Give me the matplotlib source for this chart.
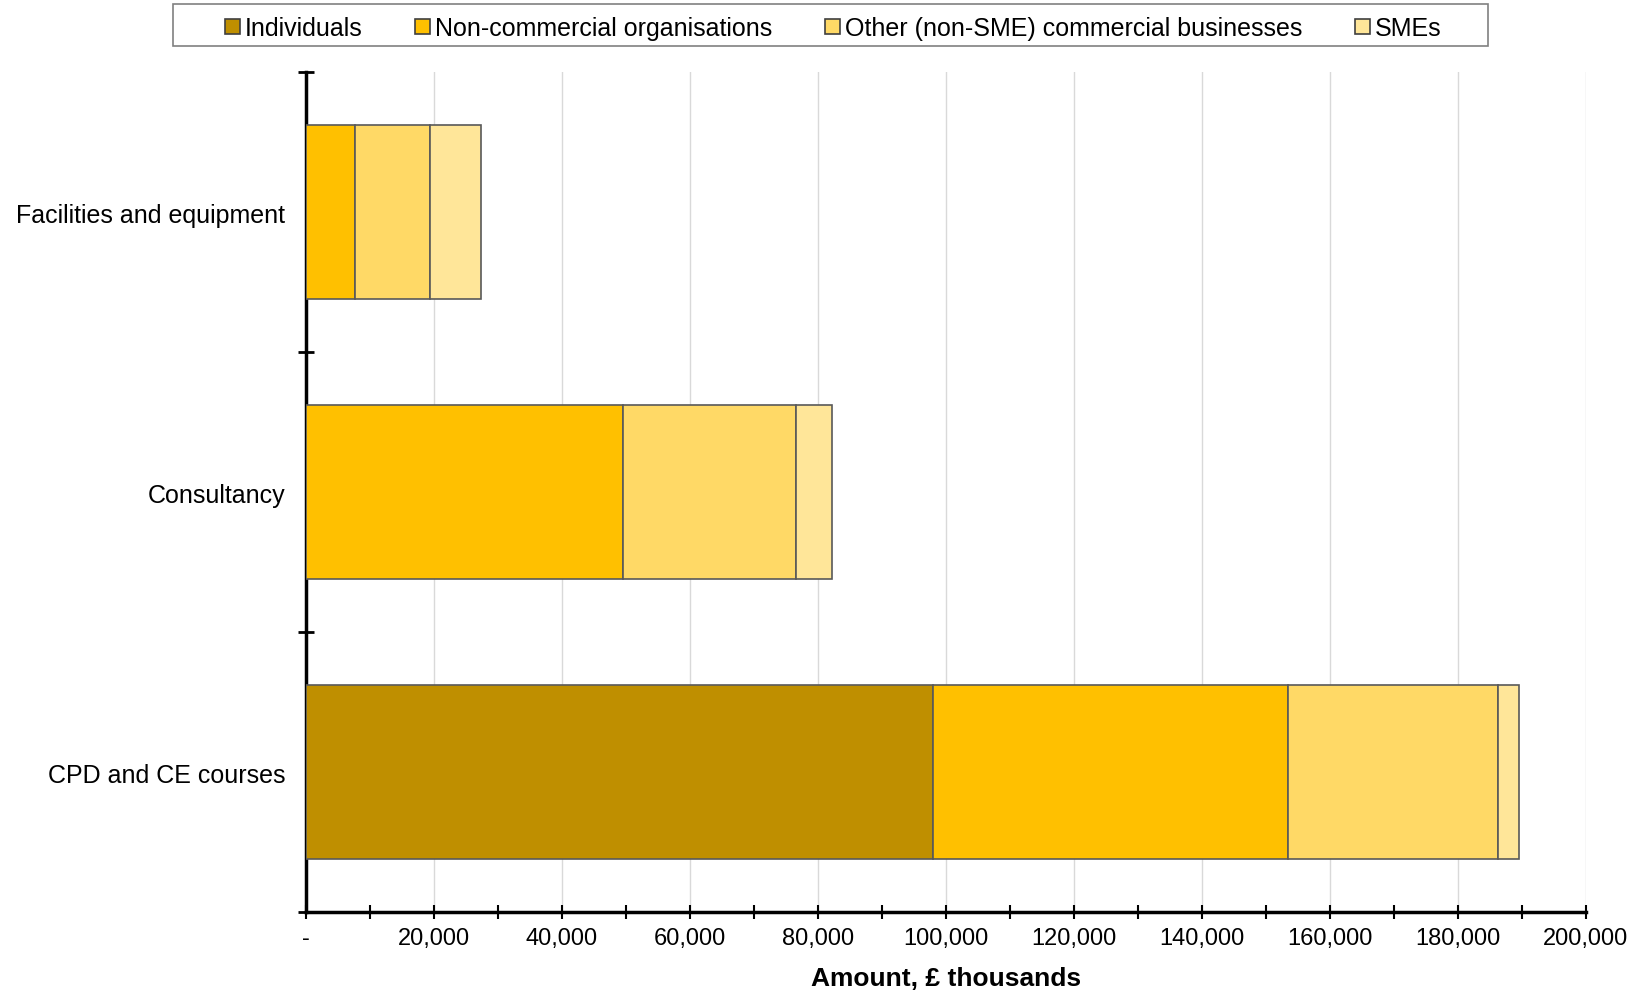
import numpy as np
import matplotlib.pyplot as plt
from matplotlib.patches import Rectangle
from matplotlib.ticker import MultipleLocator, FuncFormatter

# Data (amounts, £ thousands)
categories = ['Facilities and equipment', 'Consultancy', 'CPD and CE courses']
series = ['Individuals', 'Non-commercial organisations',
          'Other (non-SME) commercial businesses', 'SMEs']
individuals = [0, 0, 97900]
non_commercial = [7700, 49600, 55600]
other_commercial = [11600, 27000, 32700]
smes = [8000, 5600, 3300]
colors = ['#BF8F00', '#FFC000', '#FFD966', '#FFE699']

plt.rcParams['font.family'] = ['Liberation Sans', 'DejaVu Sans']

fig = plt.figure(figsize=(16.41, 9.95), dpi=100)
ax = fig.add_axes([306/1641, 1 - 913/995, 1280/1641, 840/995])

# Stack the bars, top category first
y = np.arange(len(categories))
left = np.zeros(len(categories))
for name, vals, col in zip(series, [individuals, non_commercial, other_commercial, smes], colors):
    ax.barh(y, vals, left=left, height=0.62, color=col, edgecolor='#595959',
            linewidth=1.2, label=name, zorder=3)
    left += np.array(vals)

ax.set_ylim(len(categories) - 0.5, -0.5)
ax.set_xlim(0, 200000)

# y axis: labels at centres, ticks at the boundaries
ax.set_yticks(y)
ax.set_yticklabels(categories, fontsize=18)
ax.tick_params(axis='y', which='major', length=0, pad=15)
ax.set_yticks(np.arange(-0.5, len(categories)), minor=True)
ax.tick_params(axis='y', which='minor', direction='inout', length=12, width=2)

# x axis
ax.xaxis.set_major_locator(MultipleLocator(20000))
ax.xaxis.set_minor_locator(MultipleLocator(10000))
ax.xaxis.set_major_formatter(FuncFormatter(lambda v, p: '-' if v == 0 else f'{int(v):,}'))
ax.tick_params(axis='x', which='both', direction='inout', length=10, width=1.5, labelsize=17, pad=6)
ax.set_xlabel('Amount, £ thousands', fontsize=19, fontweight='bold', labelpad=12)

ax.grid(axis='x', which='major', color='#D9D9D9', linewidth=1, zorder=0)
for s in ['top', 'right']:
    ax.spines[s].set_visible(False)
ax.spines['left'].set_linewidth(2.5)
ax.spines['bottom'].set_linewidth(2.5)

# legend entries without frame, frame drawn separately (wider than entries)
leg = fig.legend(loc='center', bbox_to_anchor=(0.5077, 0.9705), ncol=4, fontsize=18,
                 frameon=False, handlelength=0.6, handleheight=0.6,
                 handletextpad=0.2, columnspacing=2.1)
for h in leg.legend_handles:
    h.set_edgecolor('#404040')
fig.patches.append(Rectangle((173/1641, 1 - 47/995), (1488 - 173)/1641, 42/995,
                             transform=fig.transFigure, facecolor='none',
                             edgecolor='#808080', linewidth=1.2))

fig.savefig('out.png', dpi=100)
